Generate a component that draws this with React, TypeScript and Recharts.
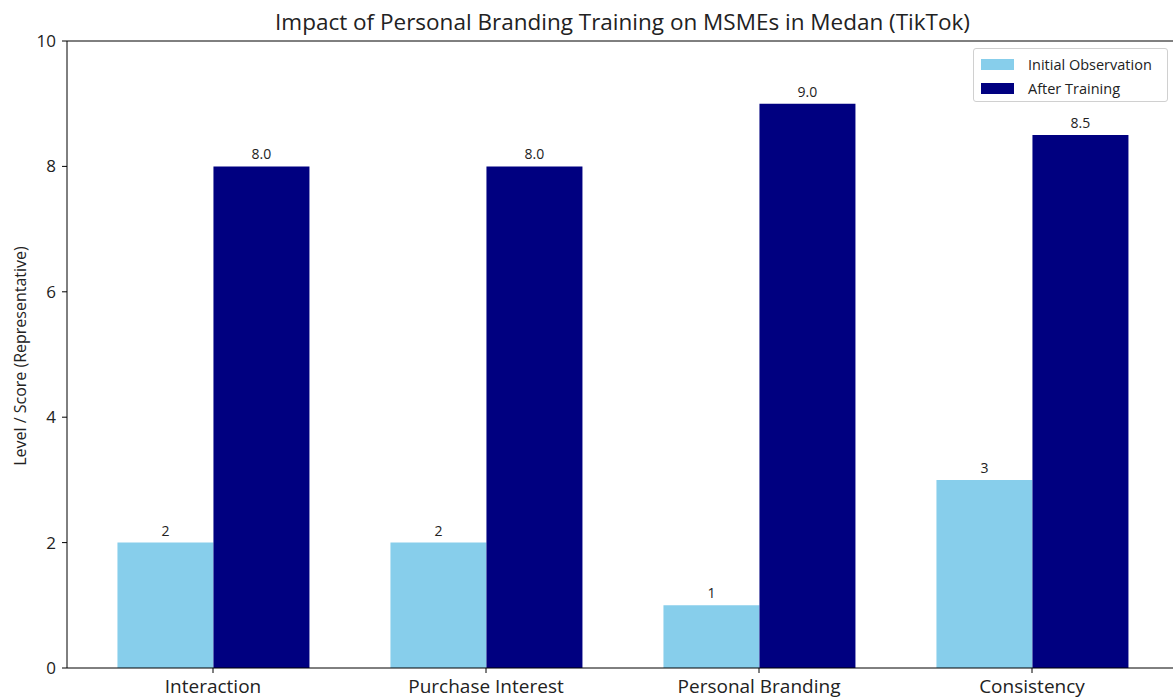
import { Bar, BarChart, LabelList, ReferenceLine, XAxis, YAxis } from 'recharts';

const categories = ['Interaction', 'Purchase Interest', 'Personal Branding', 'Consistency'];
const initialObservation = [2, 2, 1, 3];
const afterTraining = [8, 8, 9, 8.5];
const yTicks = [0, 2, 4, 6, 8, 10];

const data = categories.map((name, i) => ({
  name,
  initial: initialObservation[i],
  after: afterTraining[i],
}));

const FONT = '"Open Sans", Roboto, sans-serif';
const INK = '#222';
const LIGHT = '#87CEEB';
const NAVY = '#000080';

function LegendBox() {
  const row = (color: string, label: string) => (
    <div style={{ display: 'flex', alignItems: 'center', height: 24 }}>
      <span style={{ width: 33, height: 11, background: color, marginRight: 14 }} />
      <span>{label}</span>
    </div>
  );
  return (
    <div
      style={{
        position: 'absolute',
        left: 973,
        top: 48,
        width: 195,
        height: 54,
        boxSizing: 'border-box',
        border: '1px solid #d0d0d0',
        borderRadius: 3,
        background: 'rgba(255,255,255,0.85)',
        padding: '3px 0 0 7px',
        fontFamily: FONT,
        fontSize: 14.5,
        color: INK,
      }}
    >
      {row(LIGHT, 'Initial Observation')}
      {row(NAVY, 'After Training')}
    </div>
  );
}

export default function App() {
  return (
    <div
      style={{
        position: 'absolute',
        left: 0,
        top: 0,
        width: 1173,
        height: 699,
        overflow: 'hidden',
        background: '#fff',
        fontFamily: FONT,
      }}
    >
      <BarChart
        width={1200}
        height={720}
        data={data}
        margin={{ top: 41, right: 22, bottom: 22, left: 27 }}
        barCategoryGap="15%"
        barGap={0}
      >
        <XAxis
          dataKey="name"
          height={30}
          padding={{ left: 9.5, right: 9.5 }}
          tick={{ fontSize: 19, fill: INK, fontFamily: FONT }}
          tickLine={{ stroke: '#000' }}
          axisLine={{ stroke: '#000' }}
          tickSize={5}
          tickMargin={7}
        />
        <YAxis
          width={40}
          domain={[0, 10]}
          ticks={yTicks}
          tick={{ fontSize: 17, fill: INK, fontFamily: FONT }}
          tickLine={{ stroke: '#000' }}
          axisLine={{ stroke: '#000' }}
          tickSize={5}
          tickMargin={6}
        />
        <ReferenceLine y={10} stroke="#000" ifOverflow="extendDomain" />
        <Bar dataKey="initial" fill={LIGHT} isAnimationActive={false}>
          <LabelList
            dataKey="initial"
            position="top"
            offset={7}
            style={{ fontSize: 14, fill: INK, fontFamily: FONT }}
            formatter={(v: number) => String(v)}
          />
        </Bar>
        <Bar dataKey="after" fill={NAVY} isAnimationActive={false}>
          <LabelList
            dataKey="after"
            position="top"
            offset={7}
            style={{ fontSize: 14, fill: INK, fontFamily: FONT }}
            formatter={(v: number) => Number(v).toFixed(1)}
          />
        </Bar>
      </BarChart>
      <div
        style={{
          position: 'absolute',
          left: 0,
          width: 1245,
          top: 6,
          textAlign: 'center',
          fontSize: 22.5,
          color: INK,
          whiteSpace: 'nowrap',
        }}
      >
        Impact of Personal Branding Training on MSMEs in Medan (TikTok)
      </div>
      <div
        style={{
          position: 'absolute',
          left: 20,
          top: 356,
          transform: 'translate(-50%, -50%) rotate(-90deg)',
          whiteSpace: 'nowrap',
          fontSize: 16,
          color: INK,
        }}
      >
        Level / Score (Representative)
      </div>
      <LegendBox />
    </div>
  );
}
